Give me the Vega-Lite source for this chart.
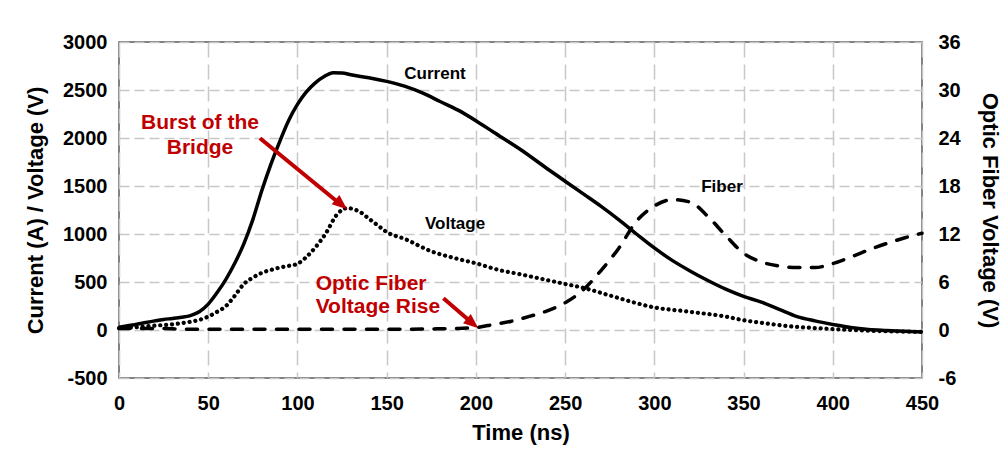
{
  "$schema": "https://vega.github.io/schema/vega-lite/v6.json",
  "width": 803,
  "height": 336,
  "autosize": {"type": "none"},
  "padding": {"left": 119, "top": 42, "right": 81, "bottom": 76},
  "background": "white",
  "config": {
    "font": "Liberation Sans",
    "view": {"stroke": "#595959", "strokeWidth": 1.5},
    "axis": {
      "labelFont": "Liberation Sans",
      "labelFontWeight": "bold",
      "labelColor": "black",
      "labelFontSize": 20,
      "titleFont": "Liberation Sans",
      "titleFontWeight": "bold",
      "titleColor": "black",
      "titleFontSize": 22,
      "domain": false,
      "ticks": false,
      "labelExpr": "datum.value < 0 ? '-' + abs(datum.value) : '' + datum.value"
    }
  },
  "datasets": {
    "current": [
      {"t": 0, "current": 30}, {"t": 5, "current": 45}, {"t": 10, "current": 60}, {"t": 15, "current": 78},
      {"t": 20, "current": 95}, {"t": 25, "current": 110}, {"t": 30, "current": 120}, {"t": 35, "current": 132},
      {"t": 40, "current": 150}, {"t": 45, "current": 190}, {"t": 50, "current": 270}, {"t": 55, "current": 390},
      {"t": 60, "current": 530}, {"t": 65, "current": 700}, {"t": 70, "current": 900}, {"t": 75, "current": 1150},
      {"t": 80, "current": 1450}, {"t": 85, "current": 1720}, {"t": 90, "current": 1960}, {"t": 95, "current": 2180},
      {"t": 100, "current": 2350}, {"t": 105, "current": 2480}, {"t": 110, "current": 2575}, {"t": 115, "current": 2640},
      {"t": 120, "current": 2680}, {"t": 125, "current": 2678}, {"t": 130, "current": 2658}, {"t": 140, "current": 2628},
      {"t": 150, "current": 2590}, {"t": 160, "current": 2540}, {"t": 170, "current": 2470}, {"t": 180, "current": 2380},
      {"t": 190, "current": 2290}, {"t": 200, "current": 2180}, {"t": 210, "current": 2060}, {"t": 225, "current": 1880},
      {"t": 240, "current": 1680}, {"t": 250, "current": 1550}, {"t": 260, "current": 1420}, {"t": 270, "current": 1290},
      {"t": 280, "current": 1150}, {"t": 290, "current": 1000}, {"t": 300, "current": 855}, {"t": 310, "current": 725},
      {"t": 320, "current": 615}, {"t": 330, "current": 515}, {"t": 340, "current": 425}, {"t": 350, "current": 350},
      {"t": 360, "current": 290}, {"t": 370, "current": 215}, {"t": 380, "current": 140}, {"t": 390, "current": 95},
      {"t": 400, "current": 58}, {"t": 410, "current": 25}, {"t": 420, "current": 5}, {"t": 430, "current": -5},
      {"t": 450, "current": -20}
    ],
    "voltage": [
      {"t": 0, "voltage": 20}, {"t": 10, "voltage": 30}, {"t": 20, "voltage": 45}, {"t": 30, "voltage": 60},
      {"t": 40, "voltage": 85}, {"t": 45, "voltage": 105}, {"t": 50, "voltage": 140}, {"t": 55, "voltage": 190},
      {"t": 60, "voltage": 250}, {"t": 65, "voltage": 360}, {"t": 70, "voltage": 480}, {"t": 75, "voltage": 545},
      {"t": 80, "voltage": 595}, {"t": 85, "voltage": 625}, {"t": 90, "voltage": 650}, {"t": 95, "voltage": 668},
      {"t": 100, "voltage": 690}, {"t": 105, "voltage": 760}, {"t": 110, "voltage": 860}, {"t": 116, "voltage": 1010},
      {"t": 122, "voltage": 1200}, {"t": 128, "voltage": 1270}, {"t": 132, "voltage": 1255}, {"t": 135, "voltage": 1230},
      {"t": 140, "voltage": 1160}, {"t": 145, "voltage": 1090}, {"t": 150, "voltage": 1020}, {"t": 160, "voltage": 950},
      {"t": 175, "voltage": 820}, {"t": 190, "voltage": 740}, {"t": 200, "voltage": 695}, {"t": 213, "voltage": 625},
      {"t": 225, "voltage": 580}, {"t": 240, "voltage": 520}, {"t": 250, "voltage": 480}, {"t": 260, "voltage": 440},
      {"t": 275, "voltage": 360}, {"t": 290, "voltage": 280}, {"t": 300, "voltage": 235}, {"t": 315, "voltage": 200},
      {"t": 325, "voltage": 178}, {"t": 340, "voltage": 140}, {"t": 350, "voltage": 102}, {"t": 360, "voltage": 75},
      {"t": 375, "voltage": 40}, {"t": 390, "voltage": 20}, {"t": 400, "voltage": 10}, {"t": 425, "voltage": -10},
      {"t": 450, "voltage": -20}
    ],
    "fiber": [
      {"t": 0, "fiber": 0.2}, {"t": 20, "fiber": 0.2}, {"t": 40, "fiber": 0.1}, {"t": 60, "fiber": 0.1},
      {"t": 80, "fiber": 0.1}, {"t": 100, "fiber": 0.1}, {"t": 120, "fiber": 0.1}, {"t": 140, "fiber": 0.1},
      {"t": 160, "fiber": 0.1}, {"t": 180, "fiber": 0.15}, {"t": 190, "fiber": 0.2}, {"t": 200, "fiber": 0.3},
      {"t": 210, "fiber": 0.7}, {"t": 220, "fiber": 1.1}, {"t": 230, "fiber": 1.7}, {"t": 240, "fiber": 2.4},
      {"t": 250, "fiber": 3.4}, {"t": 260, "fiber": 5.0}, {"t": 270, "fiber": 7.4}, {"t": 280, "fiber": 10.2},
      {"t": 290, "fiber": 13.6}, {"t": 300, "fiber": 15.5}, {"t": 310, "fiber": 16.3}, {"t": 320, "fiber": 16.0},
      {"t": 330, "fiber": 14.2}, {"t": 340, "fiber": 11.8}, {"t": 350, "fiber": 9.6}, {"t": 360, "fiber": 8.5},
      {"t": 370, "fiber": 8.0}, {"t": 380, "fiber": 7.8}, {"t": 390, "fiber": 7.8}, {"t": 400, "fiber": 8.3},
      {"t": 410, "fiber": 9.1}, {"t": 420, "fiber": 10.0}, {"t": 430, "fiber": 10.8}, {"t": 440, "fiber": 11.5},
      {"t": 450, "fiber": 12.1}
    ],
    "blackLabels": [
      {"label": "Current", "t": 177.1, "v": 2667},
      {"label": "Voltage", "t": 188.3, "v": 1104},
      {"label": "Fiber", "t": 337.9, "v": 1490}
    ],
    "burstLabels": [
      {"label": "Burst of the", "t": 45.4, "v": 2156},
      {"label": "Bridge", "t": 45.4, "v": 1896}
    ],
    "riseLabels": [
      {"label": "Optic Fiber", "t": 110.2, "v": 479},
      {"label": "Voltage Rise", "t": 110.2, "v": 240}
    ],
    "arrows": [
      {"t": 79.0, "v": 1997, "t2": 124.1, "v2": 1310, "tipT": 127.8, "tipV": 1258},
      {"t": 181.8, "v": 330, "t2": 197.9, "v2": 72, "tipT": 201.4, "tipV": 18}
    ]
  },
  "layer": [
    {
      "layer": [
        {
          "data": {"name": "current"},
          "mark": {"type": "line", "color": "black", "strokeWidth": 3.5, "interpolate": "monotone"},
          "encoding": {
            "x": {
              "field": "t", "type": "quantitative",
              "scale": {"domain": [0, 450], "nice": false},
              "axis": {
                "title": "Time (ns)",
                "values": [0, 50, 100, 150, 200, 250, 300, 350, 400, 450],
                "grid": true, "gridColor": "#c8c8c8", "gridDash": [15, 7], "gridWidth": 1.5,
                "labelPadding": 15, "titlePadding": 9, "labelFlush": false
              }
            },
            "y": {
              "field": "current", "type": "quantitative",
              "scale": {"domain": [-500, 3000], "nice": false},
              "axis": {
                "title": "Current (A) / Voltage (V)",
                "values": [-500, 0, 500, 1000, 1500, 2000, 2500, 3000],
                "grid": true, "gridColor": "#c8c8c8", "gridDash": [10, 5], "gridWidth": 1.5,
                "labelPadding": 12, "titlePadding": 15, "labelFlush": false
              }
            }
          }
        },
        {
          "data": {"name": "voltage"},
          "mark": {"type": "line", "color": "black", "strokeWidth": 4.2, "strokeDash": [0.1, 5.8], "strokeCap": "round", "interpolate": "monotone"},
          "encoding": {
            "x": {"field": "t", "type": "quantitative", "scale": {"domain": [0, 450], "nice": false}},
            "y": {"field": "voltage", "type": "quantitative", "scale": {"domain": [-500, 3000], "nice": false}}
          }
        },
        {
          "data": {"name": "arrows"},
          "mark": {"type": "rule", "color": "#C00000", "strokeWidth": 4},
          "encoding": {
            "x": {"field": "t", "type": "quantitative", "scale": {"domain": [0, 450], "nice": false}},
            "y": {"field": "v", "type": "quantitative", "scale": {"domain": [-500, 3000], "nice": false}},
            "x2": {"field": "t2"},
            "y2": {"field": "v2"}
          }
        },
        {
          "data": {"name": "arrows"},
          "mark": {"type": "point", "shape": "M0,0 L-0.8,2 L0.8,2 Z", "filled": true, "color": "#C00000", "opacity": 1, "size": 225, "angle": 130, "strokeWidth": 0},
          "encoding": {
            "x": {"field": "tipT", "type": "quantitative", "scale": {"domain": [0, 450], "nice": false}},
            "y": {"field": "tipV", "type": "quantitative", "scale": {"domain": [-500, 3000], "nice": false}}
          }
        },
        {
          "data": {"name": "blackLabels"},
          "mark": {"type": "text", "font": "Liberation Sans", "fontWeight": "bold", "fontSize": 17, "color": "black", "align": "center", "baseline": "middle"},
          "encoding": {
            "x": {"field": "t", "type": "quantitative", "scale": {"domain": [0, 450], "nice": false}},
            "y": {"field": "v", "type": "quantitative", "scale": {"domain": [-500, 3000], "nice": false}},
            "text": {"field": "label"}
          }
        },
        {
          "data": {"name": "burstLabels"},
          "mark": {"type": "text", "font": "Liberation Sans", "fontWeight": "bold", "fontSize": 21, "color": "#C00000", "align": "center", "baseline": "middle"},
          "encoding": {
            "x": {"field": "t", "type": "quantitative", "scale": {"domain": [0, 450], "nice": false}},
            "y": {"field": "v", "type": "quantitative", "scale": {"domain": [-500, 3000], "nice": false}},
            "text": {"field": "label"}
          }
        },
        {
          "data": {"name": "riseLabels"},
          "mark": {"type": "text", "font": "Liberation Sans", "fontWeight": "bold", "fontSize": 21, "color": "#C00000", "align": "left", "baseline": "middle"},
          "encoding": {
            "x": {"field": "t", "type": "quantitative", "scale": {"domain": [0, 450], "nice": false}},
            "y": {"field": "v", "type": "quantitative", "scale": {"domain": [-500, 3000], "nice": false}},
            "text": {"field": "label"}
          }
        }
      ]
    },
    {
      "data": {"name": "fiber"},
      "mark": {"type": "line", "color": "black", "strokeWidth": 3.5, "strokeDash": [11, 11.5], "strokeCap": "round", "interpolate": "monotone"},
      "encoding": {
        "x": {"field": "t", "type": "quantitative", "scale": {"domain": [0, 450], "nice": false}},
        "y": {
          "field": "fiber", "type": "quantitative",
          "scale": {"domain": [-6, 36], "nice": false},
          "axis": {
            "orient": "right",
            "title": "Optic Fiber Voltage (V)",
            "values": [-6, 0, 6, 12, 18, 24, 30, 36],
            "grid": false,
            "labelPadding": 16, "titlePadding": 17, "labelFlush": false
          }
        }
      }
    }
  ],
  "resolve": {"scale": {"y": "independent"}}
}
